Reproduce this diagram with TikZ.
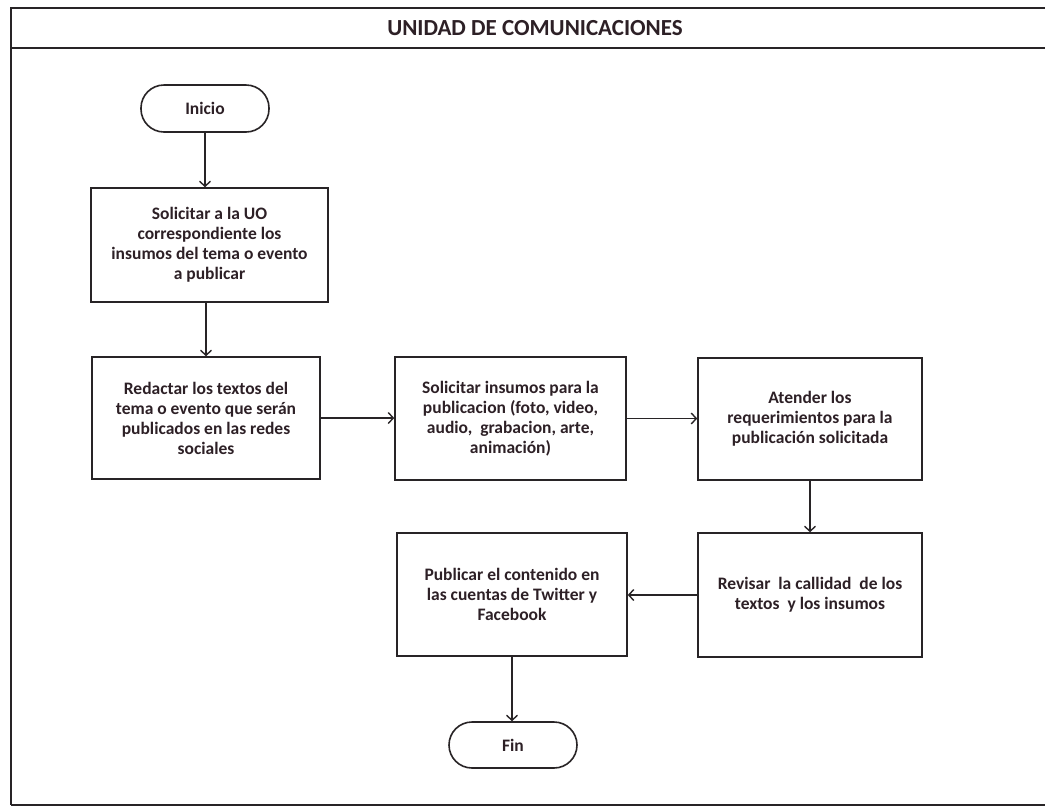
\documentclass[tikz,border=0pt]{standalone}
\usepackage{fontspec}
\setmainfont{Carlito}
\usetikzlibrary{arrows.meta}
\definecolor{ink}{RGB}{45,32,38}
\definecolor{frame}{RGB}{40,36,38}
\tikzset{
  box/.style={draw=frame, line width=1.6pt, fill=white, align=center,
    font=\bfseries\fontsize{17.5}{20}\selectfont, text=ink, inner sep=2pt},
  term/.style={box, rounded corners=23pt},
  arr/.style={draw=frame, line width=1.4pt, -{Straight Barb[length=5pt,width=11pt,line width=1.4pt]}},
}
\begin{document}
\begin{tikzpicture}[x=1pt,y=-1pt]
\useasboundingbox (0,0) rectangle (1045,807);
\fill[white] (0,0) rectangle (1045,807);
% frame
\draw[frame, line width=2pt] (1045,8) -- (11,8) -- (11,805);
\draw[frame, line width=1.2pt] (11,805) -- (1045,805);
\draw[frame, line width=2.2pt] (11,48) -- (1045,48);
\node[font=\bfseries\fontsize{23}{26}\selectfont, text=ink] (title) at (535,28) {UNIDAD DE COMUNICACIONES};
% nodes
\node[term, minimum width=128pt, minimum height=47pt] (inicio) at (205,108.5) {Inicio};
\node[box, minimum width=237pt, minimum height=114pt] (b1) at (209.5,245) {Solicitar a la UO\\correspondiente los\\insumos del tema o evento\\a publicar};
\node[box, minimum width=228pt, minimum height=122pt] (b2) at (206,418) {Redactar los textos del\\tema o evento que serán\\publicados en las redes\\sociales};
\node[box, minimum width=231pt, minimum height=123pt] (b3) at (510.5,418.5) {Solicitar insumos para la\\publicacion (foto, video,\\audio,\ \ grabacion, arte,\\animación)};
\node[box, minimum width=224pt, minimum height=122pt] (b4) at (810,419) {Atender los\\requerimientos para la\\publicación solicitada};
\node[box, minimum width=224pt, minimum height=124pt] (b5) at (810,595) {Revisar\ \ la callidad\ \ de los\\textos\ \ y los insumos};
\node[box, minimum width=230pt, minimum height=123pt] (b6) at (512,594.5) {Publicar el contenido en\\las cuentas de Twitter y\\Facebook};
\node[term, minimum width=128pt, minimum height=46pt] (fin) at (513,745) {Fin};
% connectors
\draw[arr] (inicio.south) -- (inicio.south |- b1.north);
\draw[arr] (b1.south -| b2.north) -- (b2.north);
\draw[arr] (b2.east) -- (b2.east -| b3.west);
\draw[arr] (b3.east) -- (b3.east -| b4.west);
\draw[arr] (b4.south) -- (b5.north);
\draw[arr] (b5.west) -- (b5.west -| b6.east);
\draw[arr] (b6.south) -- (b6.south |- fin.north);
\end{tikzpicture}
\end{document}
